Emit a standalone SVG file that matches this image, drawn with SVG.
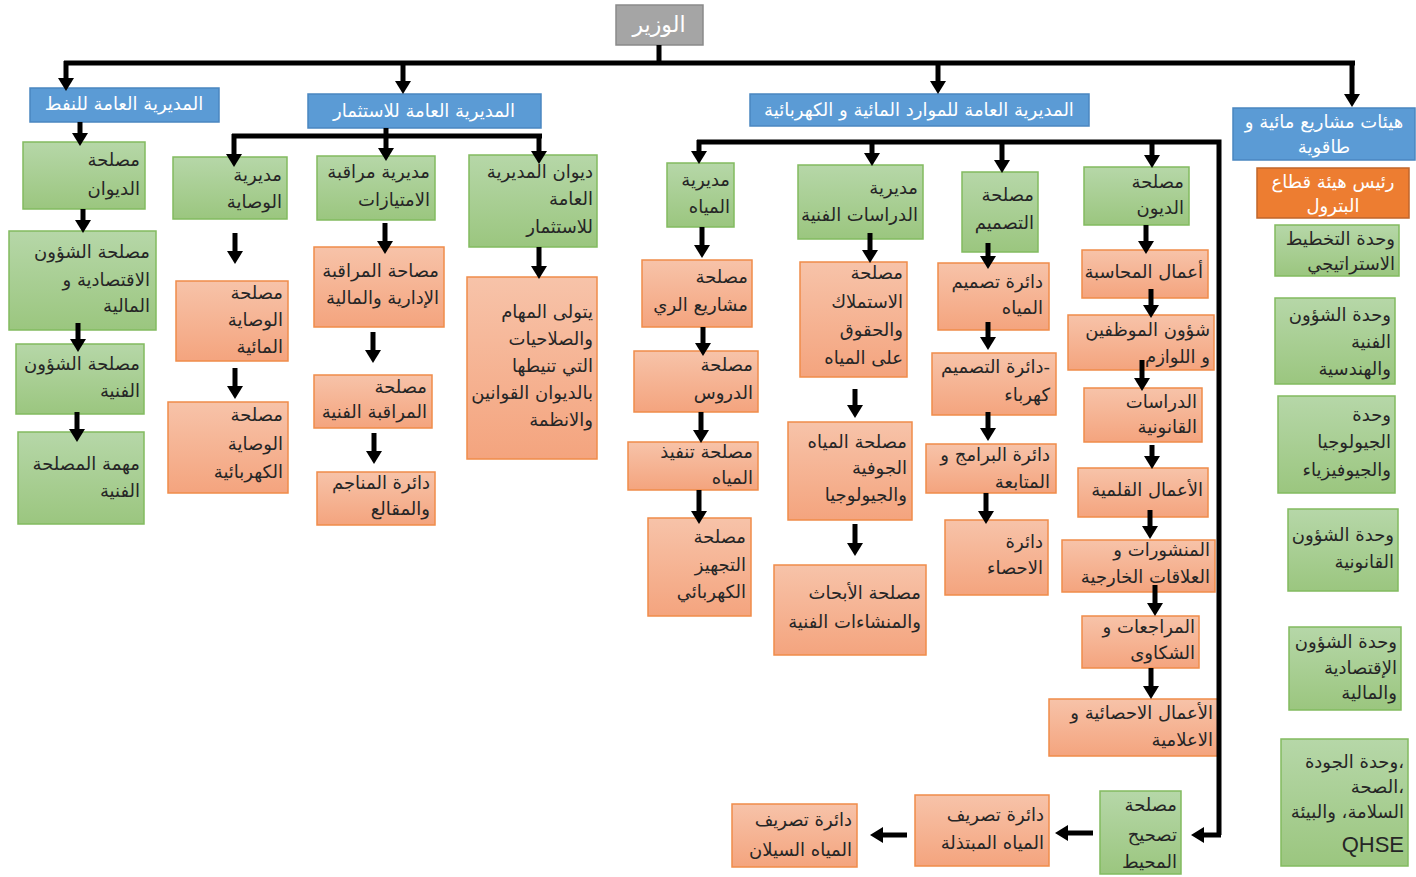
<svg xmlns="http://www.w3.org/2000/svg" width="1416" height="877" viewBox="0 0 1416 877">
<defs>
<linearGradient id="gg" x1="0" y1="0" x2="0" y2="1"><stop offset="0" stop-color="#b6d7a8"/><stop offset="1" stop-color="#9bc67f"/></linearGradient>
<linearGradient id="og" x1="0" y1="0" x2="0" y2="1"><stop offset="0" stop-color="#f7c3a9"/><stop offset="1" stop-color="#f4a47e"/></linearGradient>
<marker id="ah" markerUnits="userSpaceOnUse" markerWidth="14" markerHeight="16" refX="2" refY="8" orient="auto"><path d="M0,0 L13,8 L0,16 z" fill="#000"/></marker>
<style>
.g{fill:url(#gg);stroke:#82bb5f;stroke-width:1.5}
.o{fill:url(#og);stroke:#f08c4a;stroke-width:1.5}
.b{fill:#5b9bd5;stroke:#4a86c0;stroke-width:1.5}
.gr{fill:#a5a5a5;stroke:#8a8a8a;stroke-width:1.5}
.so{fill:#ed7d31;stroke:#c0652a;stroke-width:1.5}
.t{font-family:"DejaVu Sans",sans-serif;font-size:18px;fill:#262626;text-anchor:end}
.tw{font-family:"DejaVu Sans",sans-serif;font-size:18px;fill:#ffffff;text-anchor:middle}
.c{fill:none;stroke:#000;stroke-width:5}
.a{stroke:#000;stroke-width:5;marker-end:url(#ah)}
</style>
</defs>
<rect width="1416" height="877" fill="#ffffff"/>

<g id="n-minister"><rect class="gr" x="616" y="5" width="87" height="40"/><text class="tw" x="659" y="32" style="font-size:22px">الوزير</text></g>

<g id="n-oil"><rect class="b" x="30" y="88" width="189" height="34"/><text class="tw" x="124" y="110">المديرية العامة للنفط</text></g>
<g id="n-invest"><rect class="b" x="308" y="94" width="233" height="34"/><text class="tw" x="424" y="117">المديرية العامة للاستثمار</text></g>
<g id="n-water"><rect class="b" x="750" y="94" width="339" height="32"/><text class="tw" x="919" y="116">المديرية العامة للموارد المائية و الكهربائية</text></g>
<g id="n-hayat"><rect class="b" x="1233" y="108" width="182" height="52"/><text class="tw"><tspan x="1324" y="128">هيئات مشاريع مائية و</tspan><tspan x="1324" y="153">طاقوية</tspan></text></g>
<g id="n-petrol"><rect class="so" x="1257" y="168" width="152" height="50"/><text class="tw"><tspan x="1333" y="188">رئيس هيئة قطاع</tspan><tspan x="1333" y="212">البترول</tspan></text></g>

<!-- right column -->
<g id="n-u1"><rect class="g" x="1275" y="225" width="124" height="51"/><text class="t"><tspan x="1395" y="245">وحدة التخطيط</tspan><tspan x="1395" y="270">الاستراتيجي</tspan></text></g>
<g id="n-u2"><rect class="g" x="1275" y="298" width="120" height="86"/><text class="t"><tspan x="1391" y="321">وحدة الشؤون</tspan><tspan x="1391" y="348">الفنية</tspan><tspan x="1391" y="375">والهندسية</tspan></text></g>
<g id="n-u3"><rect class="g" x="1278" y="396" width="117" height="97"/><text class="t"><tspan x="1391" y="421">وحدة</tspan><tspan x="1391" y="448">الجيولوجيا</tspan><tspan x="1391" y="476">والجيوفيزياء</tspan></text></g>
<g id="n-u4"><rect class="g" x="1288" y="509" width="110" height="82"/><text class="t"><tspan x="1394" y="541">وحدة الشؤون</tspan><tspan x="1394" y="568">القانونية</tspan></text></g>
<g id="n-u5"><rect class="g" x="1289" y="627" width="112" height="83"/><text class="t"><tspan x="1397" y="648">وحدة الشؤون</tspan><tspan x="1397" y="674">الإقتصادية</tspan><tspan x="1397" y="699">والمالية</tspan></text></g>
<g id="n-u6"><rect class="g" x="1281" y="739" width="127" height="127"/><text class="t"><tspan x="1404" y="768">وحدة الجودة،</tspan><tspan x="1404" y="793">الصحة،</tspan><tspan x="1404" y="818">السلامة، والبيئة</tspan><tspan x="1404" y="852" style="font-family:'Liberation Sans',sans-serif;font-size:22px">QHSE</tspan></text></g>

<!-- oil column -->
<g id="n-o1"><rect class="g" x="23" y="142" width="122" height="67"/><text class="t"><tspan x="140" y="166">مصلحة</tspan><tspan x="140" y="195">الديوان</tspan></text></g>
<g id="n-o2"><rect class="g" x="9" y="231" width="147" height="99"/><text class="t"><tspan x="150" y="258">مصلحة الشؤون</tspan><tspan x="150" y="286">الاقتصادية و</tspan><tspan x="150" y="312">المالية</tspan></text></g>
<g id="n-o3"><rect class="g" x="16" y="344" width="128" height="70"/><text class="t"><tspan x="140" y="370">مصلحة الشؤون</tspan><tspan x="140" y="397">الفنية</tspan></text></g>
<g id="n-o4"><rect class="g" x="18" y="432" width="126" height="92"/><text class="t"><tspan x="140" y="470">مهمة المصلحة</tspan><tspan x="140" y="497">الفنية</tspan></text></g>

<!-- investment column A -->
<g id="n-ia1"><rect class="g" x="173" y="157" width="114" height="62"/><text class="t"><tspan x="282" y="181">مديرية</tspan><tspan x="282" y="208">الوصاية</tspan></text></g>
<g id="n-ia2"><rect class="o" x="176" y="281" width="112" height="80"/><text class="t"><tspan x="283" y="299">مصلحة</tspan><tspan x="283" y="326">الوصاية</tspan><tspan x="283" y="353">المائية</tspan></text></g>
<g id="n-ia3"><rect class="o" x="168" y="402" width="120" height="91"/><text class="t"><tspan x="283" y="421">مصلحة</tspan><tspan x="283" y="450">الوصاية</tspan><tspan x="283" y="478">الكهربائية</tspan></text></g>
<!-- investment column B -->
<g id="n-ib1"><rect class="g" x="317" y="156" width="118" height="64"/><text class="t"><tspan x="430" y="178">مديرية مراقبة</tspan><tspan x="430" y="206">الامتيازات</tspan></text></g>
<g id="n-ib2"><rect class="o" x="314" y="247" width="130" height="80"/><text class="t"><tspan x="439" y="277">مصاحة المراقبة</tspan><tspan x="439" y="304">الإدارية والمالية</tspan></text></g>
<g id="n-ib3"><rect class="o" x="314" y="375" width="118" height="53"/><text class="t"><tspan x="427" y="393">مصلحة</tspan><tspan x="427" y="418">المراقبة الفنية</tspan></text></g>
<g id="n-ib4"><rect class="o" x="317" y="472" width="118" height="53"/><text class="t"><tspan x="430" y="489">دائرة المناجم</tspan><tspan x="430" y="515">والمقالع</tspan></text></g>
<!-- investment column C -->
<g id="n-ic1"><rect class="g" x="469" y="155" width="128" height="92"/><text class="t"><tspan x="593" y="178">ديوان المديرية</tspan><tspan x="593" y="205">العامة</tspan><tspan x="593" y="233">للاستثمار</tspan></text></g>
<g id="n-ic2"><rect class="o" x="467" y="277" width="130" height="182"/><text class="t"><tspan x="593" y="318">يتولى المهام</tspan><tspan x="593" y="345">والصلاحيات</tspan><tspan x="593" y="372">التي تنيطها</tspan><tspan x="593" y="399">بالديوان القوانين</tspan><tspan x="593" y="426">والانظمة</tspan></text></g>

<!-- water column 1 -->
<g id="n-w11"><rect class="g" x="667" y="163" width="67" height="64"/><text class="t"><tspan x="730" y="186">مديرية</tspan><tspan x="730" y="213">المياه</tspan></text></g>
<g id="n-w12"><rect class="o" x="642" y="260" width="110" height="67"/><text class="t"><tspan x="748" y="283">مصلحة</tspan><tspan x="748" y="311">مشاريع الري</tspan></text></g>
<g id="n-w13"><rect class="o" x="634" y="351" width="124" height="61"/><text class="t"><tspan x="753" y="371">مصلحة</tspan><tspan x="753" y="399">الدروس</tspan></text></g>
<g id="n-w14"><rect class="o" x="628" y="442" width="130" height="48"/><text class="t"><tspan x="753" y="458">مصلحة تنفيذ</tspan><tspan x="753" y="484">المياه</tspan></text></g>
<g id="n-w15"><rect class="o" x="648" y="518" width="103" height="98"/><text class="t"><tspan x="746" y="543">مصلحة</tspan><tspan x="746" y="571">التجهيز</tspan><tspan x="746" y="598">الكهربائي</tspan></text></g>
<!-- water column 2 -->
<g id="n-w21"><rect class="g" x="798" y="165" width="125" height="74"/><text class="t"><tspan x="918" y="194">مديرية</tspan><tspan x="918" y="221">الدراسات الفنية</tspan></text></g>
<g id="n-w22"><rect class="o" x="800" y="262" width="107" height="115"/><text class="t"><tspan x="903" y="279">مصلحة</tspan><tspan x="903" y="308">الاستملاك</tspan><tspan x="903" y="336">والحقوق</tspan><tspan x="903" y="364">على المياه</tspan></text></g>
<g id="n-w23"><rect class="o" x="788" y="422" width="124" height="98"/><text class="t"><tspan x="907" y="448">مصلحة المياه</tspan><tspan x="907" y="474">الجوفية</tspan><tspan x="907" y="501">والجيولوجيا</tspan></text></g>
<g id="n-w24"><rect class="o" x="774" y="565" width="152" height="90"/><text class="t"><tspan x="921" y="599">مصلحة الأبحاث</tspan><tspan x="921" y="628">والمنشاءات الفنية</tspan></text></g>
<!-- water column 3 -->
<g id="n-w31"><rect class="g" x="962" y="172" width="76" height="80"/><text class="t"><tspan x="1034" y="201">مصلحة</tspan><tspan x="1034" y="229">التصميم</tspan></text></g>
<g id="n-w32"><rect class="o" x="938" y="263" width="111" height="67"/><text class="t"><tspan x="1043" y="288">دائرة تصميم</tspan><tspan x="1043" y="314">المياه</tspan></text></g>
<g id="n-w33"><rect class="o" x="932" y="353" width="124" height="62"/><text class="t"><tspan x="1050" y="373">دائرة التصميم-</tspan><tspan x="1050" y="401">كهرباء</tspan></text></g>
<g id="n-w34"><rect class="o" x="926" y="444" width="130" height="49"/><text class="t"><tspan x="1050" y="461">دائرة البرامج و</tspan><tspan x="1050" y="488">المتابعة</tspan></text></g>
<g id="n-w35"><rect class="o" x="945" y="520" width="103" height="75"/><text class="t"><tspan x="1043" y="548">دائرة</tspan><tspan x="1043" y="574">الاحصاء</tspan></text></g>
<!-- water column 4 -->
<g id="n-w41"><rect class="g" x="1084" y="167" width="105" height="58"/><text class="t"><tspan x="1184" y="188">مصلحة</tspan><tspan x="1184" y="214">الديون</tspan></text></g>
<g id="n-w42"><rect class="o" x="1082" y="250" width="126" height="48"/><text class="t" x="1203" y="278">أعمال المحاسبة</text></g>
<g id="n-w43"><rect class="o" x="1068" y="315" width="146" height="55"/><text class="t"><tspan x="1210" y="336">شؤون الموظفين</tspan><tspan x="1210" y="363">و اللوازم</tspan></text></g>
<g id="n-w44"><rect class="o" x="1084" y="388" width="118" height="54"/><text class="t"><tspan x="1197" y="408">الدراسات</tspan><tspan x="1197" y="433">القانونية</tspan></text></g>
<g id="n-w45"><rect class="o" x="1078" y="468" width="130" height="49"/><text class="t" x="1203" y="496">الأعمال القلمية</text></g>
<g id="n-w46"><rect class="o" x="1062" y="540" width="153" height="52"/><text class="t"><tspan x="1210" y="556">المنشورات و</tspan><tspan x="1210" y="583">العلاقات الخارجية</tspan></text></g>
<g id="n-w47"><rect class="o" x="1082" y="616" width="117" height="52"/><text class="t"><tspan x="1195" y="633">المراجعات و</tspan><tspan x="1195" y="659">الشكاوى</tspan></text></g>
<g id="n-w48"><rect class="o" x="1049" y="699" width="169" height="57"/><text class="t"><tspan x="1213" y="719">الأعمال الاحصائية و</tspan><tspan x="1213" y="746">الاعلامية</tspan></text></g>
<!-- bottom row -->
<g id="n-b1"><rect class="g" x="1100" y="791" width="81" height="83"/><text class="t"><tspan x="1177" y="811">مصلحة</tspan><tspan x="1177" y="841">تصحيح</tspan><tspan x="1177" y="868">المحيط</tspan></text></g>
<g id="n-b2"><rect class="o" x="915" y="795" width="134" height="71"/><text class="t"><tspan x="1044" y="821">دائرة تصريف</tspan><tspan x="1044" y="849">المياه المبتذلة</tspan></text></g>
<g id="n-b3"><rect class="o" x="732" y="804" width="125" height="63"/><text class="t"><tspan x="852" y="826">دائرة تصريف</tspan><tspan x="852" y="856">المياه السيلان</tspan></text></g>

<g id="connectors">
<polyline class="c" points="659,45 659,63"/>
<line class="c" x1="64" y1="63" x2="1355" y2="63"/>
<line class="a" x1="66" y1="61" x2="66" y2="80"/>
<line class="a" x1="403" y1="61" x2="403" y2="83"/>
<line class="a" x1="938" y1="61" x2="938" y2="83"/>
<line class="a" x1="1352" y1="61" x2="1352" y2="96"/>
<line class="a" x1="80" y1="122" x2="80" y2="135"/>
<line class="a" x1="83" y1="209" x2="83" y2="222"/>
<line class="a" x1="78" y1="323" x2="78" y2="341"/>
<line class="a" x1="77" y1="412" x2="77" y2="431"/>
<line class="c" x1="232" y1="136" x2="542" y2="136"/>
<line class="a" x1="234" y1="134" x2="234" y2="156"/>
<line class="a" x1="386" y1="128" x2="386" y2="150"/>
<line class="a" x1="539" y1="134" x2="539" y2="153"/>
<line class="a" x1="235" y1="233" x2="235" y2="253"/>
<line class="a" x1="235" y1="368" x2="235" y2="388"/>
<line class="a" x1="385" y1="223" x2="385" y2="243"/>
<line class="a" x1="373" y1="332" x2="373" y2="352"/>
<line class="a" x1="374" y1="433" x2="374" y2="453"/>
<line class="a" x1="539" y1="247" x2="539" y2="268"/>
<polyline class="c" points="697,142 1219,142 1219,835"/>
<line class="a" x1="699" y1="140" x2="699" y2="153"/>
<line class="a" x1="872" y1="140" x2="872" y2="155"/>
<line class="a" x1="1002" y1="140" x2="1002" y2="162"/>
<line class="a" x1="1152" y1="140" x2="1152" y2="157"/>
<line class="a" x1="1221" y1="835" x2="1202" y2="835"/>
<line class="a" x1="702" y1="227" x2="702" y2="247"/>
<line class="a" x1="703" y1="327" x2="703" y2="345"/>
<line class="a" x1="701" y1="412" x2="701" y2="432"/>
<line class="a" x1="699" y1="490" x2="699" y2="513"/>
<line class="a" x1="870" y1="233" x2="870" y2="252"/>
<line class="a" x1="855" y1="389" x2="855" y2="407"/>
<line class="a" x1="855" y1="524" x2="855" y2="545"/>
<line class="a" x1="988" y1="243" x2="988" y2="258"/>
<line class="a" x1="988" y1="322" x2="988" y2="339"/>
<line class="a" x1="988" y1="412" x2="988" y2="430"/>
<line class="a" x1="986" y1="493" x2="986" y2="513"/>
<line class="a" x1="1146" y1="225" x2="1146" y2="243"/>
<line class="a" x1="1151" y1="289" x2="1151" y2="307"/>
<line class="a" x1="1142" y1="360" x2="1142" y2="380"/>
<line class="a" x1="1152" y1="445" x2="1152" y2="458"/>
<line class="a" x1="1150" y1="510" x2="1150" y2="528"/>
<line class="a" x1="1155" y1="585" x2="1155" y2="605"/>
<line class="a" x1="1151" y1="668" x2="1151" y2="688"/>
<line class="a" x1="1093" y1="833" x2="1066" y2="833"/>
<line class="a" x1="907" y1="835" x2="881" y2="835"/>
</g>
</svg>
